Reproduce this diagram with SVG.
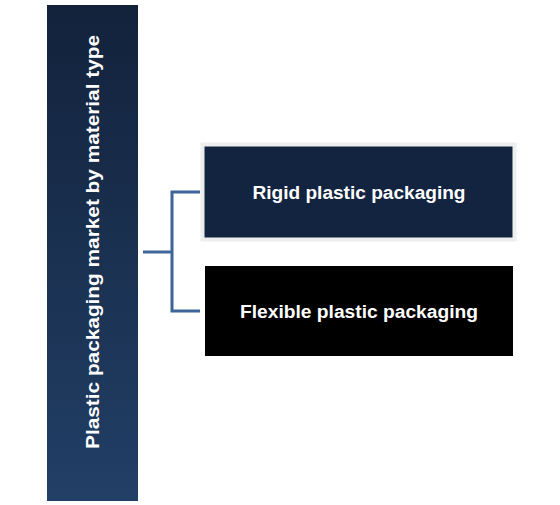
<svg xmlns="http://www.w3.org/2000/svg" width="560" height="505" viewBox="0 0 560 505">
<style>
.t{font-family:"Liberation Sans",Arial,sans-serif;font-weight:bold;fill:#ffffff;text-anchor:middle}
.c{fill:none;stroke:#3e6597;stroke-width:3}
</style>
<defs>
<linearGradient id="g" x1="0" y1="0" x2="0" y2="1">
<stop offset="0" stop-color="#12223b"/>
<stop offset="1" stop-color="#223f66"/>
</linearGradient>
</defs>
<rect width="560" height="505" fill="#ffffff"/>
<g id="root">
<rect x="47" y="5" width="91" height="496" fill="url(#g)"/>
<text class="t" transform="translate(99,242) rotate(-90)" font-size="18" textLength="414" lengthAdjust="spacingAndGlyphs">Plastic packaging market by material type</text>
</g>
<g id="connectors">
<path class="c" d="M143,252 H172"/>
<path class="c" d="M200,192 H172 V311 H200"/>
</g>
<g id="rigid">
<rect x="202.5" y="144.5" width="312" height="95" fill="#12243f" stroke="#eeeeee" stroke-width="4"/>
<text class="t" x="359" y="199" font-size="18" textLength="213" lengthAdjust="spacingAndGlyphs">Rigid plastic packaging</text>
</g>
<g id="flexible">
<rect x="205" y="266" width="308" height="90" fill="#000000"/>
<text class="t" x="359" y="318" font-size="18" textLength="238" lengthAdjust="spacingAndGlyphs">Flexible plastic packaging</text>
</g>
</svg>
